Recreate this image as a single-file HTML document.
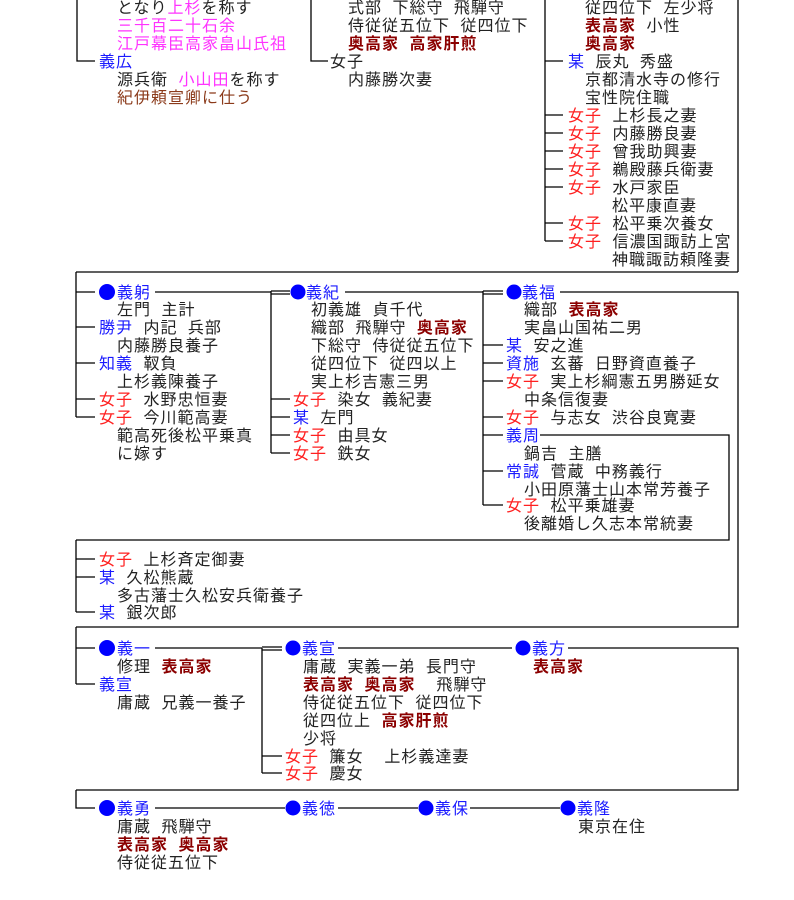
<!DOCTYPE html>
<html><head><meta charset="utf-8">
<style>
html,body{margin:0;padding:0;background:#fff;}
body{width:794px;height:900px;position:relative;overflow:hidden;font-family:"Liberation Sans","Noto Sans CJK JP",sans-serif;font-size:16px;letter-spacing:1px;word-spacing:5px;color:#222;}
.t{position:absolute;line-height:18px;white-space:pre;margin-top:2px;}
.b{color:#1a1aff;}
.r{color:#ff2020;}
.m{color:#ff33ff;}
.d{color:#8b0000;font-weight:bold;}
.br{color:#8b3a1a;}
svg{position:absolute;left:0;top:0;}
</style></head><body>
<svg width="794" height="900" stroke="#000" stroke-width="1.3" fill="none">
<path d="M77 0V61H95M311 0V61H328M545 0V241M545 61H563M545 115H563M545 133H563M545 151H563M545 169H563M545 187H563M545 223H563M545 241H563M738 0V272M76 272H738"/>
<path d="M76 272V417M76 292H95M76 327H95M76 363H95M76 399H95M76 417H95M155 292H271M271 291H290M271 294H290M271 291V453M271 399H290M271 417H290M271 435H290M271 453H290M345 292H483M483 291H503M483 294H503M483 291V505M483 345H503M483 363H503M483 381H503M483 417H503M483 435H503M483 471H503M483 505H503M560 292H738V627H76M540 435H729V540H76M76 540V612M76 559H95M76 577H95M76 612H95"/>
<path d="M76 627V684M76 648H95M76 684H95M155 648H262M262 647H282M262 650H282M262 648V773M262 756H282M262 773H282M338 648H512M568 648H738V790H76M76 790V808H95"/>
<path d="M155 808H285M338 808H418M470 808H560"/>
<g fill="#0000ff" stroke="none">
<circle cx="107" cy="292" r="8"/><circle cx="298" cy="292" r="7.5"/><circle cx="514" cy="292" r="7.5"/>
<circle cx="107" cy="648" r="8"/><circle cx="293" cy="648" r="7.5"/><circle cx="523" cy="648" r="7.5"/>
<circle cx="107" cy="808" r="8"/><circle cx="293" cy="808" r="7.5"/><circle cx="426" cy="808" r="7.5"/><circle cx="568" cy="808" r="7.5"/>
</g>
</svg>

<div class="t" style="left:117px;top:-2px">となり<span class="m">上杉</span>を称す</div>
<div class="t m" style="left:117px;top:16px">三千百二十石余</div>
<div class="t m" style="left:117px;top:34px">江戸幕臣高家畠山氏祖</div>
<div class="t b" style="left:99px;top:52px">義広</div>
<div class="t" style="left:117px;top:70px">源兵衛 <span class="m">小山田</span>を称す</div>
<div class="t br" style="left:117px;top:88px">紀伊頼宣卿に仕う</div>
<div class="t" style="left:348px;top:-2px">式部 下総守 飛騨守</div>
<div class="t" style="left:348px;top:16px">侍従従五位下 従四位下</div>
<div class="t d" style="left:348px;top:34px">奥高家 高家肝煎</div>
<div class="t" style="left:330px;top:52px">女子</div>
<div class="t" style="left:348px;top:70px">内藤勝次妻</div>
<div class="t" style="left:585px;top:-2px">従四位下 左少将</div>
<div class="t" style="left:585px;top:16px"><span class="d">表高家</span> 小性</div>
<div class="t d" style="left:585px;top:34px">奥高家</div>
<div class="t" style="left:568px;top:52px"><span class="b">某</span> 辰丸 秀盛</div>
<div class="t" style="left:585px;top:70px">京都清水寺の修行</div>
<div class="t" style="left:585px;top:88px">宝性院住職</div>
<div class="t" style="left:568px;top:106px"><span class="r">女子</span> 上杉長之妻</div>
<div class="t" style="left:568px;top:124px"><span class="r">女子</span> 内藤勝良妻</div>
<div class="t" style="left:568px;top:142px"><span class="r">女子</span> 曾我助興妻</div>
<div class="t" style="left:568px;top:160px"><span class="r">女子</span> 鵜殿藤兵衛妻</div>
<div class="t" style="left:568px;top:178px"><span class="r">女子</span> 水戸家臣</div>
<div class="t" style="left:612px;top:196px">松平康直妻</div>
<div class="t" style="left:568px;top:214px"><span class="r">女子</span> 松平乗次養女</div>
<div class="t" style="left:568px;top:232px"><span class="r">女子</span> 信濃国諏訪上宮</div>
<div class="t" style="left:612px;top:250px">神職諏訪頼隆妻</div>

<div class="t b" style="left:117px;top:283px">義躬</div>
<div class="t" style="left:117px;top:300px">左門 主計</div>
<div class="t" style="left:99px;top:318px"><span class="b">勝尹</span> 内記 兵部</div>
<div class="t" style="left:117px;top:336px">内藤勝良養子</div>
<div class="t" style="left:99px;top:354px"><span class="b">知義</span> 靫負</div>
<div class="t" style="left:117px;top:372px">上杉義陳養子</div>
<div class="t" style="left:99px;top:390px"><span class="r">女子</span> 水野忠恒妻</div>
<div class="t" style="left:99px;top:408px"><span class="r">女子</span> 今川範高妻</div>
<div class="t" style="left:117px;top:426px">範高死後松平乗真</div>
<div class="t" style="left:117px;top:444px">に嫁す</div>
<div class="t b" style="left:306px;top:283px">義紀</div>
<div class="t" style="left:311px;top:300px">初義雄 貞千代</div>
<div class="t" style="left:311px;top:318px">織部 飛騨守 <span class="d">奥高家</span></div>
<div class="t" style="left:311px;top:336px">下総守 侍従従五位下</div>
<div class="t" style="left:311px;top:354px">従四位下 従四以上</div>
<div class="t" style="left:311px;top:372px">実上杉吉憲三男</div>
<div class="t" style="left:293px;top:390px"><span class="r">女子</span> 染女 義紀妻</div>
<div class="t" style="left:293px;top:408px"><span class="b">某</span> 左門</div>
<div class="t" style="left:293px;top:426px"><span class="r">女子</span> 由具女</div>
<div class="t" style="left:293px;top:444px"><span class="r">女子</span> 鉄女</div>
<div class="t b" style="left:522px;top:283px">義福</div>
<div class="t" style="left:524px;top:300px">織部 <span class="d">表高家</span></div>
<div class="t" style="left:524px;top:318px">実畠山国祐二男</div>
<div class="t" style="left:506px;top:336px"><span class="b">某</span> 安之進</div>
<div class="t" style="left:506px;top:354px"><span class="b">資施</span> 玄蕃 日野資直養子</div>
<div class="t" style="left:506px;top:372px"><span class="r">女子</span> 実上杉綱憲五男勝延女</div>
<div class="t" style="left:524px;top:390px">中条信復妻</div>
<div class="t" style="left:506px;top:408px"><span class="r">女子</span> 与志女 渋谷良寛妻</div>
<div class="t b" style="left:506px;top:426px">義周</div>
<div class="t" style="left:524px;top:444px">鍋吉 主膳</div>
<div class="t" style="left:506px;top:462px"><span class="b">常誠</span> 菅蔵 中務義行</div>
<div class="t" style="left:524px;top:480px">小田原藩士山本常芳養子</div>
<div class="t" style="left:506px;top:496px"><span class="r">女子</span> 松平乗雄妻</div>
<div class="t" style="left:524px;top:514px">後離婚し久志本常統妻</div>
<div class="t" style="left:99px;top:550px"><span class="r">女子</span> 上杉斉定御妻</div>
<div class="t" style="left:99px;top:568px"><span class="b">某</span> 久松熊蔵</div>
<div class="t" style="left:117px;top:586px">多古藩士久松安兵衛養子</div>
<div class="t" style="left:99px;top:603px"><span class="b">某</span> 銀次郎</div>

<div class="t b" style="left:117px;top:639px">義一</div>
<div class="t" style="left:117px;top:657px">修理 <span class="d">表高家</span></div>
<div class="t b" style="left:99px;top:675px">義宣</div>
<div class="t" style="left:117px;top:693px">庸蔵 兄義一養子</div>
<div class="t b" style="left:302px;top:639px">義宣</div>
<div class="t" style="left:303px;top:657px">庸蔵 実義一弟 長門守</div>
<div class="t" style="left:303px;top:675px"><span class="d">表高家 奥高家</span>  飛騨守</div>
<div class="t" style="left:303px;top:693px">侍従従五位下 従四位下</div>
<div class="t" style="left:303px;top:711px">従四位上 <span class="d">高家肝煎</span></div>
<div class="t" style="left:303px;top:729px">少将</div>
<div class="t" style="left:285px;top:747px"><span class="r">女子</span> 簾女  上杉義達妻</div>
<div class="t" style="left:285px;top:764px"><span class="r">女子</span> 慶女</div>
<div class="t b" style="left:532px;top:639px">義方</div>
<div class="t d" style="left:533px;top:657px">表高家</div>

<div class="t b" style="left:117px;top:799px">義勇</div>
<div class="t" style="left:117px;top:817px">庸蔵 飛騨守</div>
<div class="t d" style="left:117px;top:835px">表高家 奥高家</div>
<div class="t" style="left:117px;top:853px">侍従従五位下</div>
<div class="t b" style="left:302px;top:799px">義徳</div>
<div class="t b" style="left:435px;top:799px">義保</div>
<div class="t b" style="left:577px;top:799px">義隆</div>
<div class="t" style="left:578px;top:817px">東京在住</div>
</body></html>
